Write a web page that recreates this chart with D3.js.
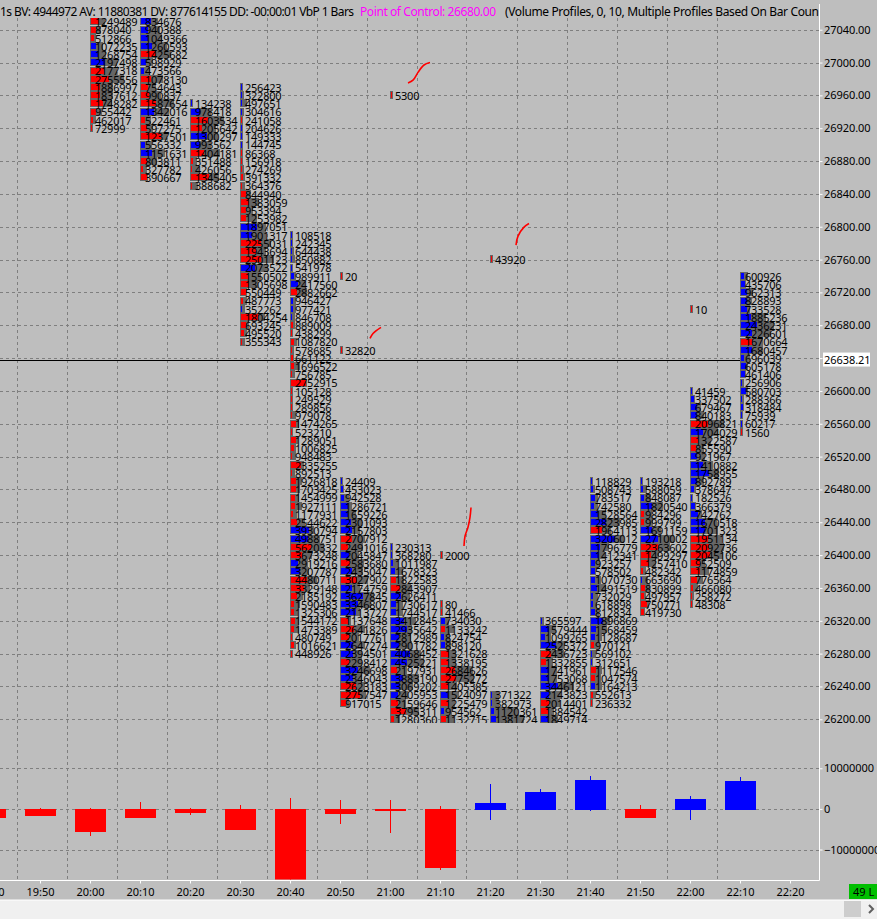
<!DOCTYPE html>
<html>
<head>
<meta charset="utf-8">
<script src="https://cdnjs.cloudflare.com/ajax/libs/d3/7.6.1/d3.min.js"></script>
<style>
    html, body { margin: 0; padding: 0; background: #bebebe; }
    svg { display: block; }
    text { font-family: "Noto Sans", sans-serif; fill: #000; }
    .num { font-size: 11px; letter-spacing: -0.25px; }
    .axisnum { font-size: 11px; letter-spacing: -0.05px; }
</style>
</head>
<body>
<div id="chart"></div>
<script>
// column start times (minutes are worked out from these)
const barTimes = ["20:00", "20:10", "20:20", "20:30", "20:40", "20:50", "21:00", "21:10", "21:20", "21:30", "21:40", "21:50", "22:00", "22:10"];
// price of the top visible row of each column
const barTopPrices = [27050, 27050, 26950, 26970, 26790, 26490, 26410, 26340, 26230, 26320, 26490, 26490, 26600, 26740];
const barVolumes = [
    [1249489, 878040, 512866, 1072235, 1268754, 2197498, 2177318, 2755556, 1886997, 1837612, 1748282, 955442, 462017, 72999],
    [834676, 940388, 1049366, 1260593, 1425682, 598929, 473566, 1078130, 754643, 990837, 1587654, 1342016, 522461, 597275, 1237501, 556332, 1151631, 803811, 327782, 390667],
    [134238, 978418, 1603534, 1205642, 1300297, 993562, 1404181, 351488, 426056, 1345405, 388682],
    [256423, 322800, 497651, 304616, 241058, 204626, 149333, 144745, 86368, 156918, 274269, 391332, 364376, 844940, 1383059, 953394, 1253982, 1897051, 1901317, 2255031, 1943694, 2501123, 2073522, 1550502, 1305698, 550449, 487773, 352262, 1804254, 693245, 495520, 355343],
    [108518, 242345, 644438, 850882, 541978, 989911, 2417560, 2882662, 946427, 977421, 846708, 889009, 438299, 1087820, 578685, 661122, 1696522, 756785, 2752915, 105128, 249529, 289856, 979078, 1474265, 523210, 1289051, 1006825, 948483, 2335255, 892513, 1926818, 1703425, 1454999, 1927111, 1177931, 2544622, 3930794, 4988751, 5620332, 3673248, 2919216, 3207787, 4480711, 3329148, 2185192, 1590483, 1325306, 1544172, 1473389, 480749, 1016621, 448926],
    [24409, 453023, 942528, 1286721, 1659226, 2301093, 2157803, 2707912, 2491016, 2045847, 2583680, 2435047, 3027902, 2174759, 3627845, 3346807, 2113727, 1137648, 2641826, 2017761, 2647274, 2394501, 2298412, 3246698, 2346043, 2623183, 2757547, 917015],
    [230313, 368280, 1011987, 1678323, 1822583, 2843907, 2626411, 1730617, 1744517, 3412845, 2935642, 2812989, 2901782, 4068452, 4525221, 2197931, 3883190, 3069202, 2405953, 2159646, 3795311, 1280360],
    [80, 41466, 734030, 1133242, 824754, 898120, 1321628, 1338195, 2684626, 2775272, 1405385, 1524097, 1225479, 954562, 1132715],
    [371322, 382973, 1120361, 1381724],
    [365597, 1579444, 1099265, 2525372, 2436723, 1332855, 1741961, 1753068, 3446121, 2143823, 2014401, 1384542, 1849714],
    [118829, 508743, 783517, 742580, 1528564, 2823985, 1964113, 3206012, 1796779, 1412341, 923257, 578502, 1070730, 1491519, 732029, 618898, 812834, 1896869, 1568459, 1128687, 970121, 569102, 312651, 1117546, 1047574, 1164213, 552613, 236332],
    [193218, 588059, 848087, 1820540, 984296, 999799, 1691159, 2710002, 2363602, 1499297, 1257410, 482342, 663690, 830899, 497957, 750771, 419730],
    [41459, 337502, 679467, 840183, 2096821, 1704029, 1322587, 855590, 921967, 1410882, 1758955, 892789, 378647, 182526, 366379, 742762, 1670518, 1701323, 1951134, 2092736, 2045106, 952509, 1174859, 776564, 466080, 258272, 48308],
    [600926, 435706, 962313, 828893, 733528, 1885236, 2436231, 2226601, 1670664, 1680457, 696039, 605178, 461406, 256906, 580703, 288366, 318484, 75939, 60217, 1560]
];
// signed delta of each row, as % of the column's biggest row (blue up, red down)
const barDeltas = [
    [-24, -15, -9, 15, 21, 42, -39, -54, -27, -27, -36, -15, -6, -3],
    [30, 21, 21, 33, -45, 15, 9, -30, -21, -24, -45, 39, -12, -18, -60, 12, 33, -18, -6, -18],
    [3, 27, -51, -33, 48, 27, -39, -6, -3, -54, -3],
    [3, 3, 3, 3, -3, 3, 3, 3, -3, -3, -3, -6, -3, -15, -24, -15, -15, 48, 33, -60, -45, -60, 42, -21, -24, -15, -6, 3, -51, -15, -9, -3],
    [3, 3, 3, 3, 3, 9, 21, -18, 6, 6, 3, -6, -3, -9, -3, -6, -9, -3, -45, -3, -3, -3, -3, -15, -3, -15, -9, -3, -30, -3, -15, -15, -12, -12, -6, -18, 54, 51, -60, -33, 21, 27, -48, -39, -18, -9, -9, -12, -9, -3, -9, -3],
    [3, 6, 9, 21, 21, 30, 33, -33, -21, 24, -27, 33, -48, 33, 66, 51, 45, -21, -39, -24, 36, 36, -24, 51, 36, -45, -57, -15],
    [3, 3, 6, 12, -15, -27, 30, 15, 15, 39, 48, 24, 24, 57, 48, -18, 36, 27, 21, -21, -45, -9],
    [-3, -3, 12, -12, 9, 12, -24, -21, -42, -45, -21, 21, -21, 9, -15],
    [3, 3, 9, 15],
    [3, 24, 12, 45, -30, -15, 24, 24, 51, 24, -24, -21, 21],
    [3, 6, 12, 9, 21, 45, -33, 72, 27, 24, 12, 12, 12, 18, 6, 6, 12, 36, 15, 12, -9, 3, 3, -15, -12, 12, -6, -3],
    [3, 6, 9, 33, -9, -9, 33, 51, -51, -30, -24, -6, 3, -12, -9, -18, -9],
    [3, 9, 18, 18, -51, 36, -21, -15, 18, 36, 54, 18, 9, 3, 12, 21, 42, 42, -51, -54, -57, -27, -27, -18, -6, -3, -3],
    [9, 12, 18, 18, 18, 30, 48, 33, -33, 33, 9, 15, 12, 3, 15, 3, 6, 3, 3, -3]
];

// single prints away from the main profile
const loneTimes = ["20:50", "20:50", "21:00", "21:10", "21:20", "22:00"];
const lonePrices = [26740, 26650, 26960, 26400, 26760, 26700];
const loneVolumes = [20, 32820, 5300, 2000, 43920, 10];

// lower panel, cumulative delta candles
const candleTimes = ["19:40", "19:50", "20:00", "20:10", "20:20", "20:30", "20:40", "20:50", "21:00", "21:10", "21:20", "21:30", "21:40", "21:50", "22:00", "22:10"];
const candleClose = [-2100000, -1400000, -5500000, -1900000, -850000, -5000000, -17500000, -1100000, -350000, -14200000, 1350000, 4050000, 7200000, -1900000, 2350000, 6950000];
const candleHigh = [0, 300000, 300000, 1600000, 300000, 900000, 2800000, 2100000, 2300000, 600000, 6200000, 5000000, 8200000, 900000, 3300000, 7900000];
const candleLow = [-2100000, -1400000, -6700000, -2050000, -1600000, -5000000, -17500000, -3800000, -5950000, -15000000, -2800000, 0, -600000, -2300000, -2800000, 0];

// hand drawn red ticks on the chart: [minutes after 20:00, price]
const handStrokes = [
    [[63.6, 26975], [64.6, 26978.5], [65.6, 26988], [66.8, 26997], [68, 27000]],
    [[85.2, 26777.5], [85.6, 26788.5], [86.8, 26799.5], [87.8, 26804]],
    [[56, 26664], [56.6, 26670], [58.2, 26677.5]],
    [[74.8, 26411], [75, 26423], [75.6, 26434], [76, 26446], [76.2, 26458]]
];

const timeTicks = ["19:40", "19:50", "20:00", "20:10", "20:20", "20:30", "20:40", "20:50", "21:00", "21:10", "21:20", "21:30", "21:40", "21:50", "22:00", "22:10", "22:20"];
const priceTicks = d3.range(26200, 27041, 40);
const deltaTicks = [-10000000, 0, 10000000];
const lastPrice = 26638.21;
const hiddenPriceLabel = 26640; // sits under the last price tag

const width = 877, height = 919;
const axisX = 819.5, axisY = 880.5;
const rowH = 8.2, peakW = 34;
const red = "#ff0000", blue = "#0000ff", profileGray = "#666666";

const minutes = s => { const [h, m] = s.split(":"); return +h * 60 + +m; };
const x = d3.scaleLinear().domain([minutes("20:00"), minutes("22:20")]).range([90, 790]);
const yPrice = d3.scaleLinear().domain([26200, 27040]).range([719.3, 29.7]);
const yDelta = d3.scaleLinear().domain([-10000000, 10000000]).range([849.5, 768.3]);

const svg = d3.select("#chart").append("svg")
    .attr("width", width).attr("height", height);

svg.append("rect").attr("width", width).attr("height", height).attr("fill", "#bebebe");

const defs = svg.append("defs");
defs.append("clipPath").attr("id", "priceClip").append("rect")
    .attr("x", 0).attr("y", 18).attr("width", axisX).attr("height", 705);
defs.append("clipPath").attr("id", "deltaClip").append("rect")
    .attr("x", 0).attr("y", 726).attr("width", axisX).attr("height", axisY - 727);
defs.append("clipPath").attr("id", "headerClip").append("rect")
    .attr("x", 0).attr("y", 0).attr("width", axisX).attr("height", 20);

// grid
const grid = svg.append("g").attr("stroke", "#7f7f7f").attr("stroke-dasharray", "3,3")
    .attr("shape-rendering", "crispEdges");
grid.selectAll(".v").data(timeTicks.slice(1, -1)).join("line").attr("class", "v")
    .attr("x1", d => Math.round(x(minutes(d)) - 23.5) + 0.5)
    .attr("x2", d => Math.round(x(minutes(d)) - 23.5) + 0.5)
    .attr("y1", 18).attr("y2", axisY);
grid.selectAll(".p").data(priceTicks).join("line").attr("class", "p")
    .attr("x1", 0).attr("x2", axisX)
    .attr("y1", d => Math.round(yPrice(d)) + 0.5).attr("y2", d => Math.round(yPrice(d)) + 0.5);
grid.selectAll(".d").data(deltaTicks).join("line").attr("class", "d")
    .attr("x1", 0).attr("x2", axisX)
    .attr("y1", d => Math.round(yDelta(d)) + 0.5).attr("y2", d => Math.round(yDelta(d)) + 0.5);

// footprint columns
const price = svg.append("g").attr("clip-path", "url(#priceClip)");

// last price line, under the last column
price.append("line").attr("x1", 0).attr("x2", x(minutes("22:10")) + 2)
    .attr("y1", Math.round(yPrice(lastPrice)) + 0.5).attr("y2", Math.round(yPrice(lastPrice)) + 0.5)
    .attr("stroke", "#000");

barTimes.forEach((t, i) => {
    const left = x(minutes(t));
    const vols = barVolumes[i];
    const w = d3.scaleLinear().domain([0, d3.max(vols)]).range([0, peakW]);
    const wDelta = d3.scaleLinear().domain([0, 100]).range([0, peakW]);
    const rows = vols.map((v, k) => ({ v, d: barDeltas[i][k], p: barTopPrices[i] - k * 10 }));
    const col = price.append("g").attr("shape-rendering", "crispEdges");
    col.selectAll(".g").data(rows).join("rect").attr("class", "g")
        .attr("x", left).attr("y", d => Math.round(yPrice(d.p) - rowH / 2))
        .attr("width", d => Math.max(3, w(d.v))).attr("height", 8)
        .attr("fill", profileGray);
    col.selectAll(".c").data(rows).join("rect").attr("class", "c")
        .attr("x", left + 1).attr("y", d => Math.round(yPrice(d.p) - rowH / 2) + 1)
        .attr("width", d => Math.max(1, wDelta(Math.abs(d.d)))).attr("height", 6)
        .attr("fill", d => d.d < 0 ? red : blue);
});
// labels last so no bar covers them
barTimes.forEach((t, i) => {
    price.append("g").selectAll("text").data(barVolumes[i]).join("text")
        .attr("class", "num")
        .attr("x", x(minutes(t)) + 5)
        .attr("y", (d, k) => yPrice(barTopPrices[i] - k * 10) + 4.7)
        .text(d => d);
});

// lone prints
loneTimes.forEach((t, i) => {
    const left = x(minutes(t));
    const y0 = yPrice(lonePrices[i]);
    price.append("rect").attr("x", left).attr("y", Math.round(y0 - rowH / 2)).attr("width", 3).attr("height", 8)
        .attr("fill", profileGray).attr("shape-rendering", "crispEdges");
    price.append("rect").attr("x", left + 1).attr("y", Math.round(y0 - rowH / 2) + 1).attr("width", 1).attr("height", 6)
        .attr("fill", red).attr("shape-rendering", "crispEdges");
    price.append("text").attr("class", "num").attr("x", left + 5).attr("y", y0 + 4.7).text(loneVolumes[i]);
});

// hand strokes
const handLine = d3.line().x(d => x(minutes("20:00") + d[0])).y(d => yPrice(d[1])).curve(d3.curveCatmullRom);
price.selectAll(".hand").data(handStrokes).join("path").attr("class", "hand")
    .attr("d", handLine).attr("fill", "none").attr("stroke", red).attr("stroke-width", 1.6);

// delta candles
const lower = svg.append("g").attr("clip-path", "url(#deltaClip)").attr("shape-rendering", "crispEdges");
candleTimes.forEach((t, i) => {
    const cx = x(minutes(t));
    const c = candleClose[i];
    const col = c < 0 ? red : blue;
    lower.append("rect").attr("x", cx).attr("width", 1)
        .attr("y", yDelta(candleHigh[i])).attr("height", yDelta(candleLow[i]) - yDelta(candleHigh[i]))
        .attr("fill", col);
    lower.append("rect").attr("x", cx - 15).attr("width", 31)
        .attr("y", Math.min(yDelta(c), yDelta(0)))
        .attr("height", Math.abs(yDelta(c) - yDelta(0)) + 1)
        .attr("fill", col);
});

// axes
const priceAxis = d3.axisRight(yPrice).tickValues(priceTicks)
    .tickFormat(d => d === hiddenPriceLabel ? "" : d3.format(".2f")(d)).tickSize(3).tickPadding(1.5);
const deltaAxis = d3.axisRight(yDelta).tickValues(deltaTicks).tickFormat(d3.format("d")).tickSize(3).tickPadding(1.5);
const timeAxis = d3.axisBottom(x).tickValues(timeTicks.map(minutes))
    .tickFormat(m => d3.format("02")(Math.floor(m / 60)) + ":" + d3.format("02")(m % 60)).tickSize(3).tickPadding(5);

function styleAxis(g) {
    g.select(".domain").remove();
    g.selectAll("line").attr("stroke", "#fff");
    g.selectAll("text").attr("class", "axisnum").attr("font-family", '"Noto Sans", sans-serif').attr("fill", "#000");
}
svg.append("g").attr("transform", `translate(${axisX},0)`).call(priceAxis).call(styleAxis);
svg.append("g").attr("transform", `translate(${axisX},0)`).call(deltaAxis).call(styleAxis);
svg.append("g").attr("transform", `translate(0,${axisY})`).call(timeAxis).call(styleAxis);

svg.append("line").attr("x1", axisX).attr("x2", axisX).attr("y1", 4).attr("y2", axisY).attr("stroke", "#fff");
svg.append("line").attr("x1", 0).attr("x2", axisX).attr("y1", axisY).attr("y2", axisY).attr("stroke", "#fff");

// last price tag
svg.append("rect").attr("x", 823).attr("y", yPrice(lastPrice) - 7).attr("width", 47).attr("height", 14).attr("fill", "#fff");
svg.append("text").attr("class", "axisnum").attr("x", 824).attr("y", yPrice(lastPrice) + 4).text(d3.format(".2f")(lastPrice));

// header line
const header = svg.append("g").attr("clip-path", "url(#headerClip)");
header.append("text").attr("x", 0).attr("y", 16).attr("font-size", 12)
    .attr("textLength", 354).attr("lengthAdjust", "spacing")
    .text("1s BV: 4944972 AV: 11880381 DV: 877614155 DD: -00:00:01 VbP 1 Bars");
header.append("text").attr("x", 360).attr("y", 16).attr("font-size", 12)
    .attr("textLength", 136).attr("lengthAdjust", "spacing")
    .style("fill", "#ff00ff").text("Point of Control: 26680.00");
header.append("text").attr("x", 505).attr("y", 16).attr("font-size", 12)
    .attr("textLength", 314).attr("lengthAdjust", "spacing")
    .text("(Volume Profiles, 0, 10, Multiple Profiles Based On Bar Coun");

// connection badge and scroll bar
svg.append("rect").attr("x", 849).attr("y", 884).attr("width", 28).attr("height", 15).attr("fill", "#00bf00");
svg.append("text").attr("x", 853).attr("y", 896).attr("font-size", 11).text("49 L");
svg.append("rect").attr("x", 0).attr("y", 900).attr("width", width).attr("height", 19).attr("fill", "#f0f0f0");
svg.append("line").attr("x1", 0).attr("x2", width).attr("y1", 900).attr("y2", 900).attr("stroke", "#fff");
svg.append("rect").attr("x", 844).attr("y", 901).attr("width", 17).attr("height", 16).attr("fill", "#cdcdcd");
svg.append("path").attr("d", d3.line()([[869, 905], [873, 909], [869, 913]]))
    .attr("fill", "none").attr("stroke", "#606060").attr("stroke-width", 2);
</script>
</body>
</html>
